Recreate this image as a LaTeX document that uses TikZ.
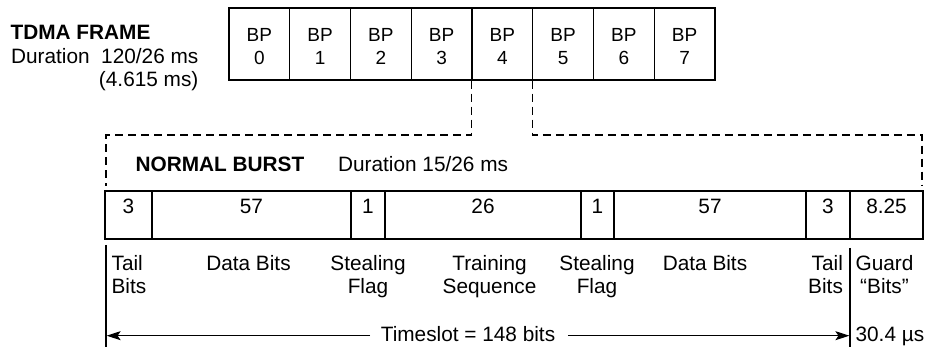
\documentclass[tikz,border=0pt]{standalone}
\usepackage{fontspec}
\setmainfont{Liberation Sans}
\usetikzlibrary{arrows.meta}
\begin{document}
\begin{tikzpicture}[x=1pt,y=-1pt,
  font=\fontsize{20.8}{22.8}\selectfont,
  line width=1.2pt,
  bpbox/.style={draw, minimum width=60.75pt, minimum height=72pt, inner sep=0pt, align=center,
    text height=42pt, text depth=1pt, font=\fontsize{19}{23.3}\selectfont},
  cell/.style={draw, minimum height=48pt, inner sep=0pt, text height=13pt, text depth=16pt},
  lbl/.style={anchor=north, inner sep=0pt, align=center},
  heading/.style={inner sep=0pt, font=\fontsize{20.8}{22.8}\selectfont\bfseries},
  guide/.style={dashed, dash pattern=on 8pt off 5pt},
  timearrow/.style={-{Stealth[length=14pt,width=9pt,inset=3pt]}, line width=1.1pt}]
\useasboundingbox (0,0) rectangle (927,347);

% TDMA frame title
\node[heading, anchor=base west] (title) at (10,40) {TDMA FRAME};
\node[anchor=base east, inner sep=0pt, align=right, font=\fontsize{20.8}{23.3}\selectfont] (dur) at (199,86.5) {Duration\ \ 120/26 ms\\(4.615 ms)};

% burst periods
\foreach \i in {0,...,7}
  \node[bpbox] (bp\i) at ({229+60.75*(\i+0.5)},44) {BP\\\i};

% dashed expansion guides
\coordinate (dl) at (106,135);
\coordinate (dlb) at (106,186);
\coordinate (dr) at (922,135);
\coordinate (drb) at (922,186);
\draw[guide] (bp4.south west) |- (dl) -- (dlb);
\draw[guide] (bp5.south west) |- (dr) -- (drb);

% normal burst heading
\node[heading, anchor=base west] (nb) at (135,172) {NORMAL BURST};
\node[anchor=base west, inner sep=0pt] (nbdur) at (337.5,172) {Duration 15/26 ms};

% burst fields
\node[cell, minimum width=47pt]  (f1) at (128.5,215) {3};
\node[cell, minimum width=199pt] (f2) at (251.5,215) {57};
\node[cell, minimum width=34pt]  (f3) at (368,215)   {1};
\node[cell, minimum width=196pt] (f4) at (483,215)   {26};
\node[cell, minimum width=33pt]  (f5) at (597.5,215) {1};
\node[cell, minimum width=192pt] (f6) at (710,215)   {57};
\node[cell, minimum width=44pt]  (f7) at (828,215)   {3};
\node[cell, minimum width=73pt]  (f8) at (886.5,215) {8.25};

% field descriptions
\node[lbl, anchor=north west, align=left] (l1) at (111,255) {Tail\\Bits};
\node[lbl] (l2) at (248.5,255) {Data Bits};
\node[lbl] (l3) at (368,255) {Stealing\\Flag};
\node[lbl] (l4) at (489.5,255) {Training\\Sequence};
\node[lbl] (l5) at (597,255) {Stealing\\Flag};
\node[lbl] (l6) at (705,255) {Data Bits};
\node[lbl, anchor=north east, align=right] (l7) at (843.5,255) {Tail\\Bits};
\node[lbl] (l8) at (884.5,255) {Guard\\“Bits”};

% timeslot span
\coordinate (vl1) at (106,245);
\coordinate (vl2) at (106,347);
\coordinate (vr1) at (850,248);
\coordinate (vr2) at (850,347);
\draw (vl1) -- (vl2);
\draw (vr1) -- (vr2);
\node[anchor=base, inner sep=0pt] (ts) at (468,341.5) {Timeslot = 148 bits};
\coordinate (al) at (106.6,335.7);
\coordinate (ar) at (849.4,335.7);
\draw[timearrow] ([xshift=-10pt]ts.west |- al) -- (al);
\draw[timearrow] ([xshift=12pt]ts.east |- ar) -- (ar);
\node[anchor=base west, inner sep=0pt] (gt) at (855,341.5) {30.4 µs};
\end{tikzpicture}
\end{document}
